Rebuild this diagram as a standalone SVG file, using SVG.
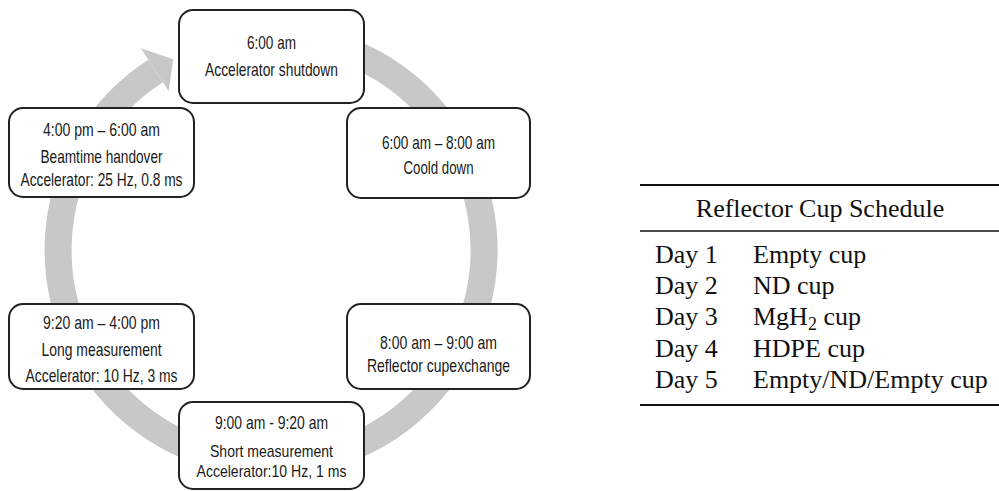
<svg xmlns="http://www.w3.org/2000/svg" width="999" height="491" viewBox="0 0 999 491">
  <style>
    .box { fill: #ffffff; stroke: #222222; stroke-width: 2; }
    .lbl { font-family: "Liberation Sans", Arial, sans-serif; font-size: 18.5px; fill: #1a1a1a; text-anchor: middle; }
    .tight { font-size: 17px; }
    .tab { font-family: "Liberation Serif", "Times New Roman", serif; font-size: 26px; fill: #111111; }
    .ring { fill: none; stroke: #c8c8c8; stroke-width: 27; }
  </style>

  <rect width="999" height="491" fill="#ffffff"/>

  <!-- circular flow connector with arrowhead -->
  <g id="connectors">
    <path class="ring" d="M 252.4 37.8 A 213 213 0 1 1 155.6 71.0"/>
    <polygon points="141,48.3 173.3,59.3 168.6,91.1" fill="#c8c8c8"/>
  </g>

  <g id="node-shutdown">
    <rect class="box" x="179" y="10" width="185" height="93" rx="14"/>
    <text class="lbl" x="271.5" y="49" textLength="49" lengthAdjust="spacingAndGlyphs">6:00 am</text>
    <text class="lbl" x="271.5" y="76" textLength="133" lengthAdjust="spacingAndGlyphs">Accelerator shutdown</text>
  </g>

  <g id="node-cooldown">
    <rect class="box" x="347" y="108" width="183" height="90" rx="14"/>
    <text class="lbl" x="438.5" y="149" textLength="113" lengthAdjust="spacingAndGlyphs">6:00 am – 8:00 am</text>
    <text class="lbl" x="438.5" y="174" textLength="70" lengthAdjust="spacingAndGlyphs">Coold down</text>
  </g>

  <g id="node-exchange">
    <rect class="box" x="347" y="304" width="183" height="85" rx="14"/>
    <text class="lbl" x="438.5" y="349" textLength="117" lengthAdjust="spacingAndGlyphs">8:00 am – 9:00 am</text>
    <text class="lbl" x="438.5" y="372" textLength="143" lengthAdjust="spacingAndGlyphs">Reflector cupexchange</text>
  </g>

  <g id="node-short">
    <rect class="box" x="179" y="402" width="185" height="87" rx="14"/>
    <text class="lbl" x="271.5" y="429" textLength="113" lengthAdjust="spacingAndGlyphs">9:00 am - 9:20 am</text>
    <text class="lbl tight" x="271.5" y="457" textLength="123" lengthAdjust="spacingAndGlyphs">Short measurement</text>
    <text class="lbl tight" x="271.5" y="477" textLength="150" lengthAdjust="spacingAndGlyphs">Accelerator:10 Hz, 1 ms</text>
  </g>

  <g id="node-long">
    <rect class="box" x="9" y="304" width="185" height="85" rx="14"/>
    <text class="lbl" x="101.5" y="329" textLength="117" lengthAdjust="spacingAndGlyphs">9:20 am – 4:00 pm</text>
    <text class="lbl" x="101.5" y="356" textLength="120" lengthAdjust="spacingAndGlyphs">Long measurement</text>
    <text class="lbl" x="101.5" y="382" textLength="152" lengthAdjust="spacingAndGlyphs">Accelerator: 10 Hz, 3 ms</text>
  </g>

  <g id="node-handover">
    <rect class="box" x="9" y="108" width="185" height="89" rx="14"/>
    <text class="lbl" x="101.5" y="136" textLength="117" lengthAdjust="spacingAndGlyphs">4:00 pm – 6:00 am</text>
    <text class="lbl" x="101.5" y="163" textLength="122" lengthAdjust="spacingAndGlyphs">Beamtime handover</text>
    <text class="lbl" x="101.5" y="186" textLength="162" lengthAdjust="spacingAndGlyphs">Accelerator: 25 Hz, 0.8 ms</text>
  </g>

  <!-- schedule table -->
  <g id="schedule-table">
    <line x1="640" y1="185" x2="999" y2="185" stroke="#111" stroke-width="2"/>
    <text class="tab" x="820" y="217" text-anchor="middle">Reflector Cup Schedule</text>
    <line x1="640" y1="231" x2="999" y2="231" stroke="#111" stroke-width="1.3"/>
    <text class="tab" x="655" y="263">Day 1</text>
    <text class="tab" x="753" y="263">Empty cup</text>
    <text class="tab" x="655" y="294">Day 2</text>
    <text class="tab" x="753" y="294">ND cup</text>
    <text class="tab" x="655" y="325">Day 3</text>
    <text class="tab" x="753" y="325">MgH<tspan font-size="18" dy="5">2</tspan><tspan dy="-5"> cup</tspan></text>
    <text class="tab" x="655" y="357">Day 4</text>
    <text class="tab" x="753" y="357">HDPE cup</text>
    <text class="tab" x="655" y="388">Day 5</text>
    <text class="tab" x="753" y="388">Empty/ND/Empty cup</text>
    <line x1="640" y1="405" x2="999" y2="405" stroke="#111" stroke-width="2"/>
  </g>
</svg>
